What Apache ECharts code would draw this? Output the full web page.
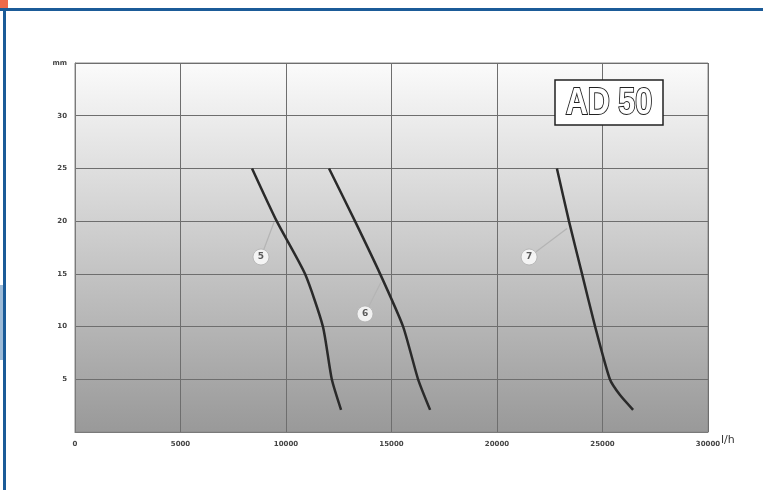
<!DOCTYPE html>
<html>
<head>
<meta charset="utf-8">
<script src="https://cdn.jsdelivr.net/npm/echarts@6/dist/echarts.min.js"></script>
<style>
  html,body{margin:0;padding:0;background:#fff;}
  #chart{width:763px;height:490px;}
</style>
</head>
<body>
<div id="chart"></div>
<script>
// curve points [l/h, mm]
var curve5 = [[8390,25],[9560,20],[10900,15],[11750,10],[12170,5],[12610,2.1]];
var curve6 = [[12040,25],[13270,20],[14460,15],[15550,10],[16260,5],[16830,2.1]];
var curve7 = [[22840,25],[23410,20],[24030,15],[24650,10],[25350,5],[25830,3.5],[26450,2.1]];
var curveNames = ['5','6','7'];
// callout bubble position and the point on the curve it points to
var bubbles = [[8815,16.6],[13745,11.2],[21520,16.6]];
var anchors = [[9430,19.9],[14500,14.2],[23320,19.3]];
var xTicks = [0,5000,10000,15000,20000,25000,30000];
var yTicks = [0,5,10,15,20,25,30,35];

var myChart = echarts.init(document.getElementById('chart'));

var curves = [curve5, curve6, curve7];
var series = [];
curves.forEach(function(c, i){
  series.push({
    type: 'line',
    data: c,
    smooth: 0.2,
    symbol: 'none',
    lineStyle: {color: '#2a2a2a', width: 2.5},
    markLine: {
      silent: true,
      symbol: 'none',
      label: {show: false},
      lineStyle: {color: '#b4b4b4', width: 1.2, type: 'solid'},
      data: [[{coord: bubbles[i]}, {coord: anchors[i]}]]
    },
    z: 3
  });
});
series.push({
  type: 'scatter',
  data: bubbles.map(function(b, i){ return {value: b, name: curveNames[i]}; }),
  symbol: 'circle',
  symbolSize: 16,
  itemStyle: {color: '#ffffff', borderColor: '#b0b0b0', borderWidth: 1},
  label: {
    show: true, position: 'inside', formatter: '{b}',
    color: '#333', fontSize: 9, fontWeight: 'bold', fontFamily: 'DejaVu Sans'
  },
  z: 5
});

var option = {
  animation: false,
  backgroundColor: '#ffffff',
  grid: {
    left: 75, top: 63, right: 55, bottom: 58,
    show: true,
    borderColor: '#8a8a8a',
    borderWidth: 1,
    backgroundColor: new echarts.graphic.LinearGradient(0, 0, 0, 1, [
      {offset: 0, color: '#fbfbfb'},
      {offset: 1, color: '#999999'}
    ])
  },
  xAxis: {
    type: 'value',
    min: 0, max: 30000, interval: 5000,
    axisLine: {show: true, lineStyle: {color: '#7a7a7a'}},
    axisTick: {show: false},
    splitLine: {show: true, lineStyle: {color: '#6e6e6e', width: 1}},
    axisLabel: {
      color: '#444', fontSize: 7, fontWeight: 'bold', fontFamily: 'DejaVu Sans', margin: 9,
      formatter: function(v){ return String(v); }
    }
  },
  yAxis: {
    type: 'value',
    min: 0, max: 35, interval: 5,
    axisLine: {show: true, lineStyle: {color: '#7a7a7a'}},
    axisTick: {show: false},
    splitLine: {show: true, lineStyle: {color: '#6e6e6e', width: 1}},
    axisLabel: {
      color: '#444', fontSize: 7, fontWeight: 'bold', fontFamily: 'DejaVu Sans', margin: 8,
      formatter: function(v){
        if (v === 0) return '';
        if (v === 35) return 'mm';
        return String(v);
      }
    }
  },
  series: series,
  graphic: [
    // blue frame
    {type: 'rect', shape: {x: 0, y: 8, width: 763, height: 3}, style: {fill: '#1b5b98'}, z: 10},
    {type: 'rect', shape: {x: 3, y: 8, width: 3, height: 482}, style: {fill: '#1b5b98'}, z: 10},
    {type: 'rect', shape: {x: 0, y: 0, width: 8, height: 8}, style: {fill: '#ee6a4a'}, z: 10},
    {type: 'rect', shape: {x: 0, y: 285, width: 3, height: 75}, style: {fill: '#9dbbd8'}, z: 10},
    // AD 50 badge
    {type: 'rect', shape: {x: 555, y: 80, width: 108, height: 45},
      style: {fill: '#ffffff', stroke: '#222', lineWidth: 1.5}, z: 10},
    {type: 'text', x: 609, y: 104, scaleX: 0.85, z: 11,
      style: {text: 'AD 50', align: 'center', verticalAlign: 'middle',
        font: 'bold 36px "Liberation Sans Narrow", "Liberation Sans", sans-serif',
        fill: '#ffffff', stroke: '#222', lineWidth: 2}},
    // unit label on x axis
    {type: 'text', x: 721, y: 440, z: 11,
      style: {text: 'l/h', fill: '#333', font: '11px "DejaVu Sans", sans-serif',
        verticalAlign: 'middle'}}
  ]
};
myChart.setOption(option);
</script>
</body>
</html>
